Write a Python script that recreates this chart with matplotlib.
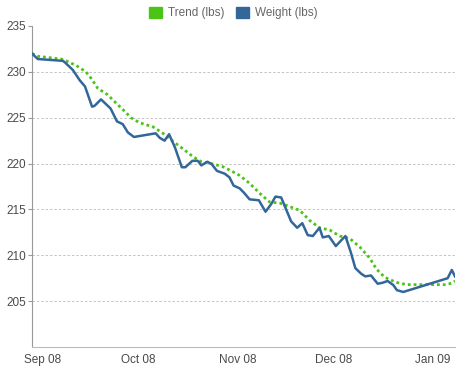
import numpy as np
import pandas as pd
import matplotlib
matplotlib.use("Agg")
import matplotlib.pyplot as plt
from matplotlib.patches import Patch

plt.rcParams['font.family'] = ['Liberation Sans', 'DejaVu Sans']

# days are counted from 1 Sep 2008
base = pd.Timestamp('2008-09-01')

weight_days = [-3.4, -1.6, 6.3, 7.0, 9.4, 11.5, 13.2, 15.4, 16.2, 18.2, 21.2, 23.2, 25.0,
               26.6, 28.5, 35.3, 36.6, 38.1, 39.5, 41.3, 43.5, 44.6, 46.8, 48.5, 49.6,
               51.5, 52.8, 54.5, 56.9, 58.4, 59.7, 61.6, 63.0, 64.7, 67.6, 69.7, 71.5,
               72.8, 74.6, 77.7, 79.6, 81.2, 82.9, 84.5, 86.6, 87.6, 89.5, 91.7, 93.3,
               94.7, 96.5, 97.8, 99.6, 100.9, 102.7, 104.8, 106.3, 107.9, 109.7, 110.8,
               112.8, 126.7, 128.0, 129.0]
weight_lbs = [232.0, 231.4, 231.2, 231.0, 230.2, 229.1, 228.4, 226.2, 226.3, 227.0, 226.0,
              224.6, 224.3, 223.4, 222.9, 223.3, 222.8, 222.5, 223.2, 221.8, 219.6, 219.6,
              220.3, 220.3, 219.8, 220.2, 219.95, 219.2, 218.9, 218.5, 217.6, 217.3, 216.8,
              216.1, 216.0, 214.75, 215.6, 216.4, 216.3, 213.7, 213.0, 213.5, 212.2, 212.1,
              213.0, 211.95, 212.1, 211.0, 211.6, 212.1, 210.2, 208.6, 208.0, 207.7, 207.8,
              206.9, 207.0, 207.2, 206.75, 206.2, 206.0, 207.5, 208.4, 207.7]

trend_days = [-3.4, -1.6, 5.7, 7.3, 10.4, 13.5, 15.1, 17.2, 20.3, 22.9, 25.6, 27.6, 30.3,
              34.5, 37.6, 40.8, 43.9, 47.0, 49.6, 53.3, 56.4, 59.5, 61.6, 64.7, 67.9,
              71.0, 74.1, 77.3, 80.4, 83.5, 86.6, 89.8, 92.9, 96.0, 99.2, 102.3, 104.4,
              107.0, 110.6, 113.8, 121.1, 126.3, 128.3, 129.0]
trend_lbs = [232.0, 231.7, 231.4, 231.2, 230.7, 230.0, 229.3, 228.2, 227.5, 226.6, 225.7,
             225.0, 224.45, 224.0, 223.3, 222.4, 221.6, 220.75, 220.2, 219.95, 219.65,
             219.1, 218.7, 217.85, 216.75, 215.8, 215.7, 215.3, 214.9, 213.8, 213.0,
             212.75, 212.1, 211.85, 210.9, 209.7, 208.5, 207.6, 207.05, 206.8, 206.8,
             206.8, 207.0, 207.2]

tick_dates = ['2008-09-01', '2008-10-01', '2008-11-01', '2008-12-01', '2009-01-01']
tick_labels = ['Sep 08', 'Oct 08', 'Nov 08', 'Dec 08', 'Jan 09']
y_ticks = [205, 210, 215, 220, 225, 230, 235]

weight_x = base + pd.to_timedelta(weight_days, unit='D')
trend_x = base + pd.to_timedelta(trend_days, unit='D')

trend_color = '#4cc417'
weight_color = '#336699'

fig = plt.figure(figsize=(4.69, 3.68), dpi=100)
ax = fig.add_axes([32 / 469, 21 / 368, 423 / 469, 321 / 368])

ax.plot(trend_x, trend_lbs, color=trend_color, lw=2.0, linestyle=(0, (1, 1.1)), zorder=3)
ax.plot(weight_x, weight_lbs, color=weight_color, lw=1.8, zorder=4)

ax.set_ylim(200, 235)
ax.set_xlim(weight_x[0], weight_x[-1])
ax.set_yticks(y_ticks)
ax.set_xticks(pd.to_datetime(tick_dates))
ax.set_xticklabels(tick_labels)

for v in y_ticks[:-1]:
    ax.axhline(v, color='#c4c4c4', lw=0.7, linestyle=(0, (2.5, 2)), zorder=1)

for side in ['top', 'right']:
    ax.spines[side].set_visible(False)
ax.spines['left'].set_color('#999999')
ax.spines['bottom'].set_color('#bbbbbb')
ax.tick_params(axis='y', length=3, color='#999999', labelsize=8.5, labelcolor='#4a4a4a', pad=1)
ax.tick_params(axis='x', length=0, labelsize=8.5, labelcolor='#4a4a4a', pad=5)

handles = [Patch(color=trend_color, label='Trend (lbs)'),
           Patch(color=weight_color, label='Weight (lbs)')]
fig.legend(handles=handles, loc='center', bbox_to_anchor=(0.497, 0.965), ncol=2, frameon=False,
           fontsize=8.5, labelcolor='#666666', handlelength=1.1, handleheight=1.1,
           handletextpad=0.5, columnspacing=1.0)

fig.savefig('out.png', dpi=100)
